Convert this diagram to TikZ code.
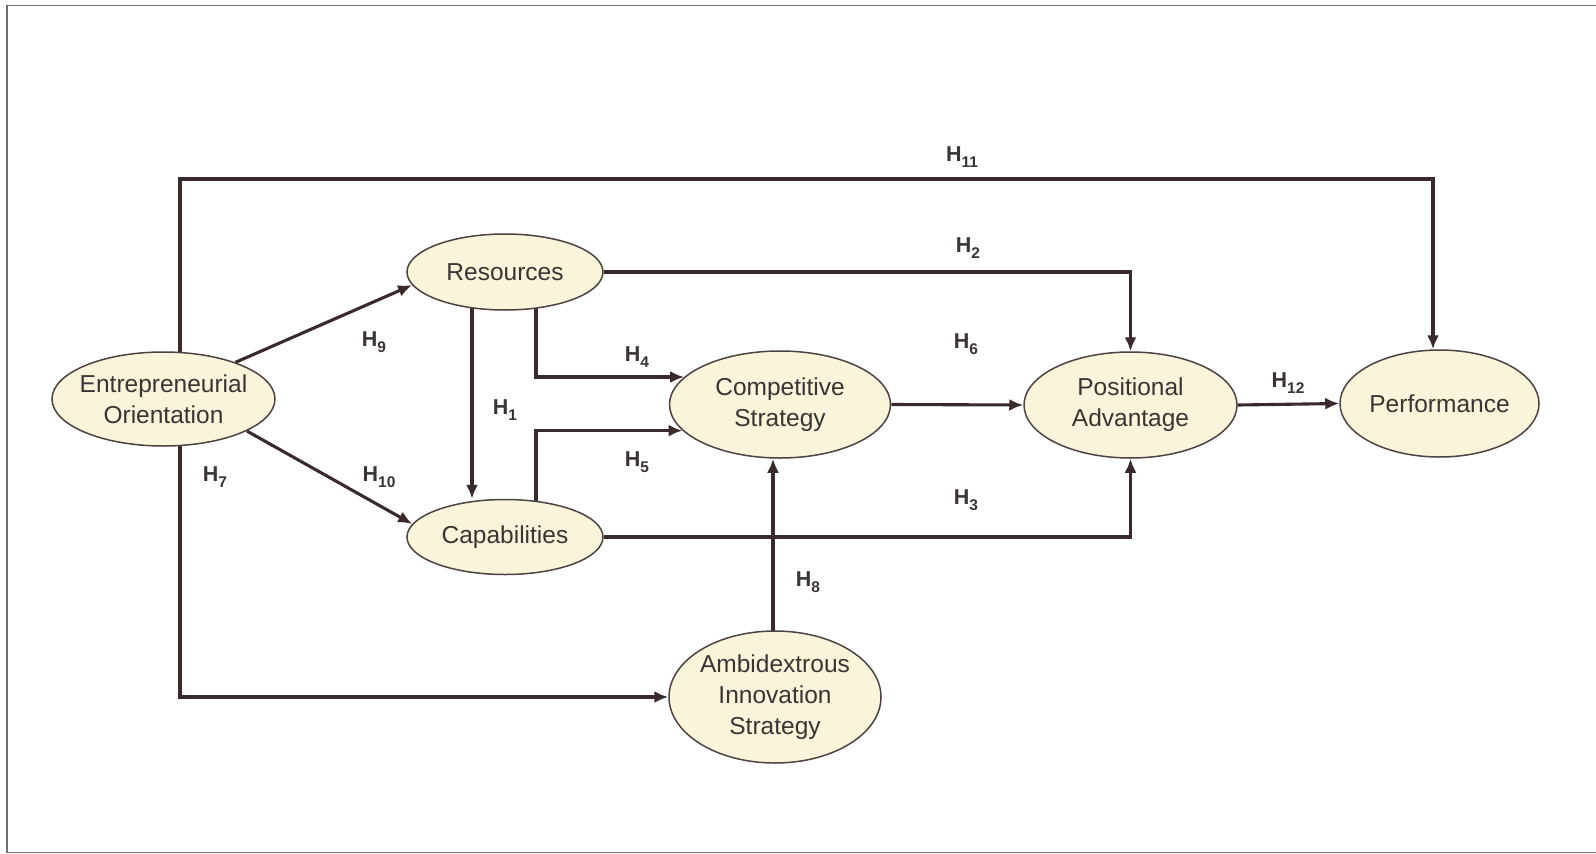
\documentclass[tikz,border=0pt]{standalone}
\usepackage{fontspec}
\setmainfont{Liberation Sans}
\usetikzlibrary{arrows.meta,shapes.geometric,backgrounds}

\definecolor{lnc}{HTML}{3A2A2C}
\definecolor{efill}{HTML}{F9F4DA}
\definecolor{ebord}{HTML}{4E4242}
\definecolor{txt}{HTML}{3A3434}
\definecolor{framec}{HTML}{707074}

% hypothesis label: bold H with a lowered index
\newcommand{\hyp}[1]{\textbf{H\raisebox{-0.3em}{\fontsize{15.5}{16}\selectfont #1}}}

\tikzset{
  var/.style={ellipse, draw=ebord, fill=efill, line width=1.5pt, inner sep=-40pt,
              text=txt, align=center, font=\fontsize{24.5}{31}\selectfont},
  arr/.style={draw=lnc, line width=3.1pt, -{Latex[length=14pt,width=12pt]}},
  hl/.style={text=txt, font=\fontsize{21.5}{23}\selectfont},
}

\begin{document}
\begin{tikzpicture}[x=1pt,y=-1pt]
\useasboundingbox (0,0) rectangle (1596,854);

% constructs
\node[var, minimum width=223pt, minimum height=94pt]  (eo)   at (163.5,399) {Entrepreneurial\\Orientation};
\node[var, minimum width=196pt, minimum height=76pt]  (res)  at (505,272)   {Resources};
\node[var, minimum width=196pt, minimum height=75pt]  (cap)  at (505,537)   {Capabilities};
\node[var, minimum width=221pt, minimum height=107pt] (cs)   at (780,404.5) {Competitive\\Strategy};
\node[var, minimum width=213pt, minimum height=106pt] (pa)   at (1130.5,405){Positional\\Advantage};
\node[var, minimum width=199pt, minimum height=107pt] (perf) at (1439.5,403.5){Performance};
\node[var, minimum width=212pt, minimum height=132pt] (amb)  at (775,697)   {Ambidextrous\\Innovation\\Strategy};

% lanes of the routed connectors
\coordinate (h11a) at (180,179);
\coordinate (h11b) at (1433,179);
\coordinate (x1) at (472,0);
\coordinate (x4) at (536,0);
\coordinate (x8) at (773,0);

\begin{scope}[on background layer]
  \fill[white] (0,0) rectangle (1596,854);
  \draw[framec, line width=1.8pt] (1596,5.5) -- (7,5.5) -- (7,852.5) -- (1596,852.5);

  \draw[arr] (eo.center -| h11a) |- (h11b) -- (h11b |- perf.north);
  \draw[arr] (eo.center -| h11a) |- (amb.west);
  \draw[arr] (eo.27) -- (res.188);
  \draw[arr] (eo.-21) -- (cap.172);
  \draw[arr] (res.center -| x1) -- (cap.north -| x1);
  \draw[arr] (res.center -| x4) |- (cs.164);
  \draw[arr] (cap.center -| x4) |- (cs.195);
  \draw[arr] (res) -| (pa);
  \draw[arr] (cap) -| (pa);
  \draw[arr] (cs.east) -- (pa.west);
  \draw[arr] (pa.east) -- (perf.west);
  \draw[arr] (x8 |- amb.center) -- (x8 |- cs.south);
\end{scope}

% hypothesis labels
\node[hl] (l11) at (962,157) {\hyp{11}};
\node[hl] (l2)  at (968,248) {\hyp{2}};
\node[hl] (l9)  at (374,342) {\hyp{9}};
\node[hl] (l4)  at (637,357) {\hyp{4}};
\node[hl] (l6)  at (966,344) {\hyp{6}};
\node[hl] (l1)  at (505,410) {\hyp{1}};
\node[hl] (l12) at (1288,383) {\hyp{12}};
\node[hl] (l7)  at (215,477) {\hyp{7}};
\node[hl] (l10) at (379,477) {\hyp{10}};
\node[hl] (l5)  at (637,462) {\hyp{5}};
\node[hl] (l3)  at (966,500) {\hyp{3}};
\node[hl] (l8)  at (808,582) {\hyp{8}};
\end{tikzpicture}
\end{document}
